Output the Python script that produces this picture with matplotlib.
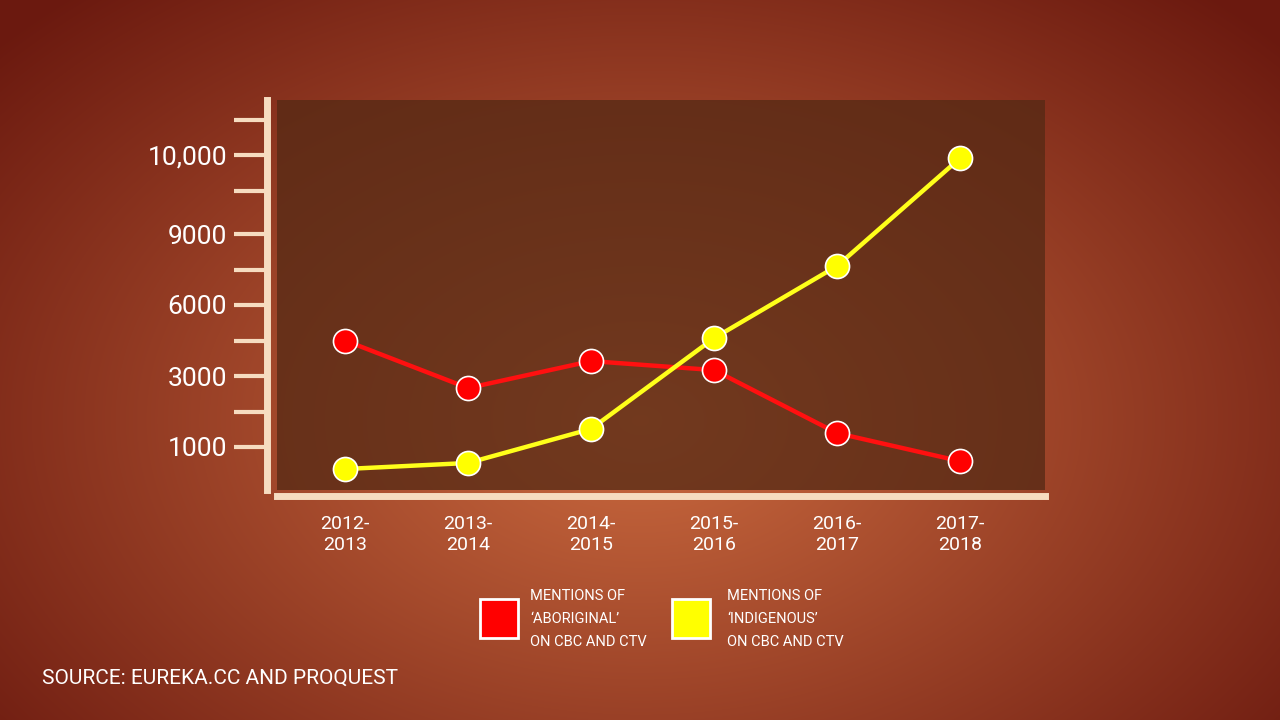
import numpy as np
import matplotlib
matplotlib.use("Agg")
import matplotlib.pyplot as plt
from matplotlib.patches import Rectangle

categories = ["2012-\n2013", "2013-\n2014", "2014-\n2015", "2015-\n2016", "2016-\n2017", "2017-\n2018"]
aboriginal = [4500, 2660, 3630, 3250, 1390, 600]
indigenous = [380, 550, 1510, 4600, 7650, 9960]
ytick_vals = [1000, 3000, 6000, 9000, 10000]
ytick_labels = ["1000", "3000", "6000", "9000", "10,000"]
yminor_vals = [2000, 4500, 7500, 9544, 10443]

V = [0, 1000, 3000, 6000, 9000, 10000, 11000]
P = [0, 35.5, 106.5, 177.5, 248.5, 327.5, 406.5]
def fwd2(v):
    v = np.asarray(v, float)
    out = np.interp(v, V, P)
    return np.where(v < 0, v * 0.0355, out)
def inv(p):
    p = np.asarray(p, float)
    out = np.interp(p, P, V)
    return np.where(p < 0, p / 0.0355, out)

plt.rcParams['font.family'] = ['Roboto', 'DejaVu Sans']
fig = plt.figure(figsize=(12.8, 7.2), dpi=100)
bg = fig.add_axes([0, 0, 1, 1])
yy, xx = np.mgrid[0:720, 0:1280]
d = np.sqrt(((xx - 640) / 900) ** 2 + ((yy - 420) / 600) ** 2)
c1 = np.array([0.80, 0.42, 0.25]); c2 = np.array([0.42, 0.10, 0.06])
t = np.clip(d / 0.95, 0, 1)[..., None]
img = c1 * (1 - t) + c2 * t
bg.imshow(img, aspect="auto", extent=[0, 1280, 720, 0])
bg.set_xlim(0, 1280); bg.set_ylim(720, 0); bg.axis("off")

ax = fig.add_axes([277/1280, 1-490/720, 768/1280, 390/720])
ax.set_yscale("function", functions=(fwd2, inv))
ax.set_facecolor((0.33, 0.16, 0.08, 0.75))
x = np.arange(len(categories))
ax.plot(x, aboriginal, color="#ff1010", lw=3.2, zorder=2)
ax.plot(x, indigenous, color="#ffff1a", lw=3.2, zorder=2)
ax.scatter(x, aboriginal, s=300, color="#ff0000", edgecolor="white", linewidth=1.2, zorder=3)
ax.scatter(x, indigenous, s=300, color="#ffff00", edgecolor="white", linewidth=1.2, zorder=3)
ax.set_xlim(-0.553, 5.69)
ax.set_ylim(inv(-7.5), inv(382.5))
ax.set_xticks(x)
ax.set_xticklabels(categories, linespacing=1.0)
ax.tick_params(axis="x", length=0, pad=14, labelcolor="white", labelsize=14)
ax.set_yticks(ytick_vals)
ax.set_yticklabels(ytick_labels)
ax.set_yticks(yminor_vals, minor=True)
ax.yaxis.set_minor_formatter(plt.NullFormatter())
ax.tick_params(axis="y", which="both", length=24, width=3, color="#f6dcc0", pad=5,
               labelcolor="white", labelsize=19)
for s in ["top", "right"]:
    ax.spines[s].set_visible(False)
ax.spines["left"].set_position(("outward", 7))
ax.spines["left"].set_color("#f6dcc0"); ax.spines["left"].set_linewidth(5)
ax.spines["bottom"].set_position(("outward", 4))
ax.spines["bottom"].set_color("#f6dcc0"); ax.spines["bottom"].set_linewidth(5)

bg.add_patch(Rectangle((480, 599), 38, 39, facecolor="#ff0000", edgecolor="white", lw=2))
bg.add_patch(Rectangle((672, 599), 38, 39, facecolor="#ffff00", edgecolor="white", lw=2))
for xt, word in [(530, "\u2018ABORIGINAL\u2019"), (727, "\u2018INDIGENOUS\u2019")]:
    bg.text(xt, 596, "MENTIONS OF", color="white", fontsize=10.5, va="center")
    bg.text(xt, 619, word, color="white", fontsize=10.5, va="center")
    bg.text(xt, 642, "ON CBC AND CTV", color="white", fontsize=10.5, va="center")
bg.text(42, 678, "SOURCE: EUREKA.CC AND PROQUEST", color="white", fontsize=15, va="center")

fig.savefig("out.png", dpi=100)
